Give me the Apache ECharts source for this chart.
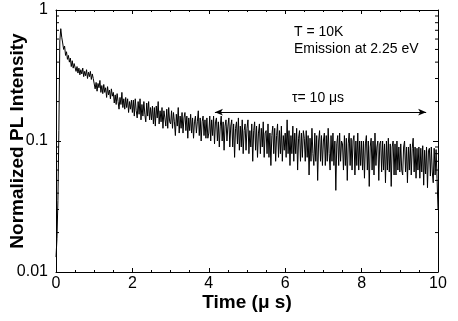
<!DOCTYPE html>
<html><head><meta charset="utf-8">
<script src="https://cdn.jsdelivr.net/npm/echarts@6/dist/echarts.min.js"></script>
<style>html,body{margin:0;padding:0;background:#fff}#c{width:458px;height:321px}</style>
</head><body><div id="c"></div>
<script>
// time grid of the trace (µs)
const tStart = 0, tStep = 0.025;
// normalized PL intensity, one row = 0.5 µs
const intensity = [
0.013,0.018,0.035,0.12,0.58,0.72,0.62,0.56,0.50,0.53,0.45,0.48,0.42,0.45,0.40,0.43,0.37,0.41,0.36,0.39,
0.38,0.34,0.37,0.33,0.36,0.32,0.35,0.325,0.36,0.31,0.34,0.315,0.35,0.30,0.335,0.31,0.34,0.295,0.325,0.30,
0.29,0.25,0.28,0.24,0.275,0.255,0.29,0.235,0.265,0.23,0.27,0.235,0.255,0.215,0.26,0.225,0.245,0.21,0.25,0.22,
0.235,0.195,0.225,0.19,0.23,0.20,0.175,0.215,0.19,0.235,0.18,0.21,0.175,0.215,0.18,0.21,0.165,0.20,0.175,0.205,
0.165,0.205,0.155,0.21,0.17,0.15,0.20,0.16,0.21,0.145,0.19,0.155,0.20,0.16,0.14,0.195,0.155,0.20,0.145,0.18,
0.145,0.185,0.135,0.18,0.13,0.185,0.15,0.20,0.135,0.17,0.14,0.18,0.125,0.17,0.15,0.13,0.175,0.125,0.18,0.14,
0.135,0.17,0.125,0.165,0.14,0.11,0.16,0.13,0.18,0.115,0.155,0.125,0.165,0.115,0.15,0.165,0.12,0.155,0.105,0.15,
0.12,0.16,0.115,0.15,0.105,0.14,0.155,0.115,0.14,0.17,0.11,0.15,0.10,0.14,0.155,0.11,0.145,0.105,0.15,0.105,
0.115,0.155,0.10,0.145,0.11,0.155,0.095,0.14,0.15,0.10,0.14,0.09,0.13,0.155,0.10,0.14,0.085,0.13,0.145,0.10,
0.13,0.15,0.09,0.13,0.145,0.09,0.135,0.075,0.125,0.14,0.095,0.15,0.085,0.13,0.09,0.145,0.08,0.12,0.135,0.085,
0.125,0.145,0.08,0.12,0.09,0.135,0.07,0.12,0.14,0.085,0.13,0.075,0.115,0.135,0.08,0.125,0.09,0.14,0.075,0.115,
0.12,0.08,0.135,0.075,0.115,0.065,0.11,0.13,0.08,0.125,0.07,0.11,0.135,0.075,0.12,0.08,0.13,0.07,0.11,0.085,
0.115,0.075,0.145,0.08,0.12,0.065,0.11,0.08,0.13,0.07,0.115,0.08,0.125,0.06,0.105,0.12,0.07,0.115,0.075,0.12,
0.105,0.07,0.12,0.075,0.11,0.055,0.105,0.07,0.125,0.08,0.065,0.115,0.07,0.11,0.05,0.10,0.12,0.07,0.11,0.065,
0.10,0.115,0.065,0.11,0.07,0.125,0.08,0.06,0.11,0.07,0.115,0.065,0.10,0.042,0.095,0.11,0.065,0.115,0.07,0.10,
0.095,0.06,0.11,0.065,0.105,0.05,0.095,0.115,0.065,0.105,0.06,0.10,0.11,0.055,0.10,0.065,0.115,0.06,0.10,0.065,
0.10,0.06,0.10,0.052,0.095,0.11,0.06,0.10,0.045,0.09,0.105,0.06,0.10,0.055,0.115,0.065,0.09,0.10,0.05,0.095,
0.10,0.058,0.10,0.06,0.095,0.048,0.10,0.06,0.105,0.058,0.095,0.045,0.09,0.10,0.055,0.095,0.055,0.10,0.06,0.09,
0.058,0.095,0.06,0.055,0.09,0.10,0.058,0.09,0.048,0.09,0.06,0.095,0.055,0.088,0.105,0.058,0.09,0.052,0.088,0.06,
0.09,0.052,0.088,0.058,0.092,0.046,0.085,0.056,0.09,0.044,0.084,0.088,0.054,0.09,0.058,0.048,0.088,0.055,0.086,0.052,
0.03
];
const xTicks = [0, 2, 4, 6, 8, 10];
const yTickLabels = ['0.01', '0.1', '1'];
const yMinorTicks = [0.02,0.03,0.04,0.05,0.06,0.07,0.08,0.09,0.2,0.3,0.4,0.5,0.6,0.7,0.8,0.9];
const tauArrow = { from: 4.16, to: 9.69, level: 0.166 };
const labelT = 'T = 10K';
const labelEm = 'Emission at 2.25 eV';
const labelTau = 'τ= 10 μs';

const trace = intensity.map((v, i) => [+(tStart + i * tStep).toFixed(3), v]);

const chart = echarts.init(document.getElementById('c'), null, {renderer: 'canvas'});
const F = 'Liberation Sans, Arial, sans-serif';
const baseX = {
  type: 'value', min: xTicks[0], max: xTicks[xTicks.length - 1], interval: 2,
  axisLine: {show: true, onZero: false, lineStyle: {color: '#000', width: 1}},
  axisTick: {show: true, inside: true, length: 4, lineStyle: {color: '#000'}},
  minorTick: {show: true, splitNumber: 4, length: 2, lineStyle: {color: '#000'}},
  splitLine: {show: false}
};
const baseY = {
  type: 'log', logBase: 10, min: 0.01, max: 1,
  axisLine: {show: true, onZero: false, lineStyle: {color: '#000', width: 1}},
  axisTick: {show: true, inside: true, length: 5, lineStyle: {color: '#000'}},
  splitLine: {show: false}
};
chart.setOption({
  animation: false,
  backgroundColor: '#fff',
  grid: {left: 56, right: 20, top: 10, bottom: 49, containLabel: false, outerBoundsMode: 'none'},
  xAxis: [
    Object.assign({}, baseX, {
      position: 'bottom', name: 'Time (μ s)', nameLocation: 'middle', nameGap: 21, nameMoveOverlap: false,
      nameTextStyle: {fontFamily: F, fontSize: 19, fontWeight: 'bold', color: '#000'},
      axisLabel: {show: true, margin: 4, fontFamily: F, fontSize: 16, color: '#000',
        formatter: v => xTicks.indexOf(v) >= 0 ? String(v) : ''}
    }),
    Object.assign({}, baseX, {position: 'top', axisLabel: {show: false}})
  ],
  yAxis: [
    Object.assign({}, baseY, {
      position: 'left', name: 'Normalized PL Intensity', nameLocation: 'middle', nameGap: 29, nameMoveOverlap: false,
      nameTextStyle: {fontFamily: F, fontSize: 19, fontWeight: 'bold', color: '#000'},
      axisLabel: {show: true, margin: 8, fontFamily: F, fontSize: 16, color: '#000',
        formatter: (v, i) => yTickLabels[i] !== undefined ? yTickLabels[i] : ''}
    }),
    Object.assign({}, baseY, {position: 'right', axisLabel: {show: false}})
  ],
  series: [
    {
      type: 'line', xAxisIndex: 0, yAxisIndex: 0, data: trace,
      showSymbol: false, symbol: 'none', silent: true,
      lineStyle: {color: '#000', width: 1},
      markLine: {
        silent: true, symbol: ['arrow', 'arrow'], symbolSize: [5, 8],
        label: {show: false},
        lineStyle: {color: '#000', width: 1, type: 'solid'},
        data: [[{coord: [tauArrow.from, tauArrow.level]}, {coord: [tauArrow.to, tauArrow.level]}]]
      }
    },
    {
      type: 'custom', xAxisIndex: 0, yAxisIndex: 0, silent: true,
      data: yMinorTicks.map(v => [xTicks[0], v]),
      renderItem: (params, api) => {
        const v = api.value(1);
        const pl = api.coord([xTicks[0], v]);
        const pr = api.coord([xTicks[xTicks.length - 1], v]);
        return {type: 'group', children: [
          {type: 'line', shape: {x1: pl[0], y1: pl[1], x2: pl[0] + 3, y2: pl[1]}, style: {stroke: '#000', lineWidth: 1}},
          {type: 'line', shape: {x1: pr[0], y1: pr[1], x2: pr[0] - 3, y2: pr[1]}, style: {stroke: '#000', lineWidth: 1}}
        ]};
      }
    }
  ],
  graphic: [
    {type: 'text', left: 294, top: 25, style: {text: labelT, font: '14px ' + F, fill: '#000'}},
    {type: 'text', left: 294, top: 42, style: {text: labelEm, font: '14px ' + F, fill: '#000'}},
    {type: 'text', left: 292, top: 91, style: {text: labelTau, font: '14px ' + F, fill: '#000'}}
  ]
});
</script></body></html>
